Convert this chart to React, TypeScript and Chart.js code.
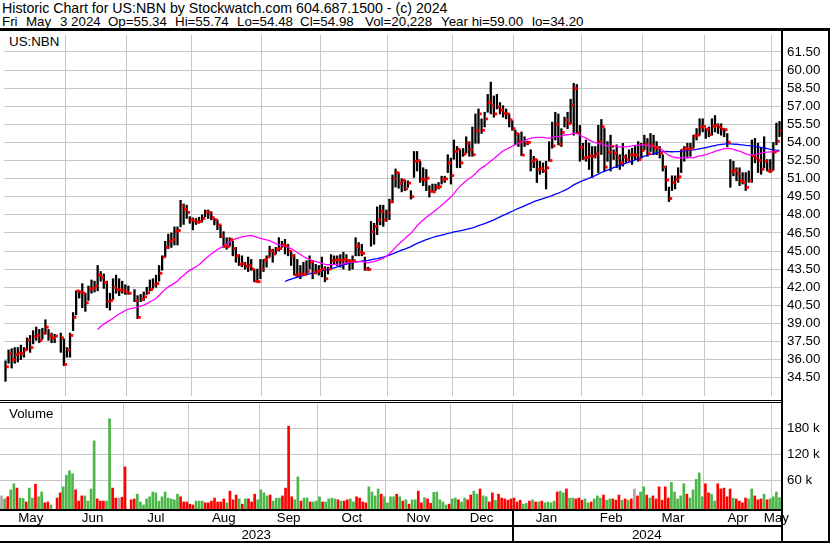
import React, { useEffect, useRef } from 'react';
import { Chart, registerables } from 'chart.js';

Chart.register(...registerables);

type Bar = [number, number, number] | null; // [high, low, close]

// ---- Daily bars per month: [high, low, close] ----
const PX_MAY23: Bar[] = [
  [35.9, 34.2, 35.4], [36.8, 35.7, 36.5], [36.9, 35.3, 36.0], [37.0, 35.7, 36.4], [37.0, 35.8, 36.55],
  [37.2, 36.0, 36.5], [37.0, 36.2, 36.8], [37.8, 36.8, 37.6], [38.0, 36.6, 37.0], [38.4, 37.3, 37.9],
  [38.7, 37.6, 38.0], [38.5, 37.4, 37.6], [38.6, 37.7, 38.2], [39.3, 38.1, 38.7], [38.5, 37.6, 38.0],
  [38.2, 37.4, 37.8], [38.1, 37.4, 37.95], null, [38.2, 36.6, 37.8], [37.7, 35.5, 35.6],
];
const PX_JUN23: Bar[] = [
  [37.0, 36.2, 36.8], [38.2, 36.2, 38.0], [39.9, 38.4, 39.5], [41.7, 39.7, 41.7], [41.7, 41.1, 41.6],
  [42.3, 40.3, 41.5], [41.5, 40.0, 40.7], [42.1, 40.9, 41.85], [42.6, 41.5, 41.9], [42.5, 41.6, 42.1],
  [43.8, 41.7, 43.0], [43.3, 42.5, 42.8], [43.1, 41.9, 42.4], [42.5, 40.3, 40.8], [41.5, 40.1, 40.9],
  [42.7, 41.0, 42.0], [43.0, 41.5, 41.8], [42.7, 41.3, 41.75], [42.5, 41.5, 41.75], [42.2, 41.4, 41.6],
];
const PX_JUL23: Bar[] = [
  [42.1, 41.4, 41.5], null, [41.8, 40.8, 40.9], [41.3, 39.4, 39.5], [41.4, 40.8, 41.0],
  [41.6, 40.9, 41.2], [42.0, 41.4, 41.55], [42.6, 41.7, 41.8], [42.7, 41.9, 42.2], [43.0, 42.0, 42.3],
  [43.8, 42.5, 43.15], [44.6, 43.4, 44.5], [45.8, 44.5, 45.3], [46.4, 45.2, 45.8], [46.5, 45.3, 45.95],
  [47.0, 45.5, 46.6], [47.0, 45.5, 46.7], [49.2, 47.0, 48.75], [48.9, 47.2, 48.45], [48.8, 47.7, 48.2],
  [47.85, 47.3, 47.6],
];
const PX_AUG23: Bar[] = [
  [47.75, 46.75, 47.5], [47.7, 47.2, 47.4], [47.8, 47.3, 47.45], [48.0, 47.4, 47.7], [48.4, 47.85, 48.25],
  [48.4, 47.7, 48.17], [48.26, 47.58, 47.77], [47.7, 47.17, 47.58], [47.58, 46.77, 47.17], [47.17, 46.1, 46.23],
  [46.6, 45.3, 45.4], [46.1, 45.15, 45.37], [46.1, 45.4, 45.96], [45.8, 44.6, 45.2], [45.3, 44.07, 44.6],
  [44.7, 43.8, 43.9], [44.6, 43.7, 43.95], [44.07, 43.5, 43.75], [44.5, 43.3, 43.8], [44.3, 43.4, 43.5],
  [43.5, 42.45, 42.5], [43.5, 42.4, 42.45], [44.3, 42.7, 43.5],
];
const PX_SEP23: Bar[] = [
  [44.3, 43.3, 44.26], [44.6, 43.66, 44.5], [45.4, 44.5, 45.0], [45.15, 44.07, 44.75], [45.3, 44.75, 45.15],
  [46.1, 45.0, 45.2], [45.8, 45.3, 45.5], [45.96, 44.75, 45.4], [45.56, 44.6, 45.0], [45.0, 43.8, 44.6],
  [44.7, 43.0, 43.0], [44.3, 42.86, 43.04], [43.8, 42.7, 43.1], [44.07, 43.0, 43.04], [44.2, 43.1, 43.3],
  [44.6, 43.5, 44.1], [44.2, 42.7, 43.2], [43.9, 43.1, 43.3], [43.8, 43.0, 43.4],
];
const PX_OCT23: Bar[] = [
  [44.5, 42.86, 43.5], [43.7, 42.45, 42.7], [43.66, 43.1, 43.5], [44.7, 43.5, 44.2], [44.6, 43.9, 44.25],
  [44.6, 43.8, 44.26], [44.7, 43.66, 44.2], [44.9, 43.5, 44.3], [44.7, 43.9, 44.2], [44.3, 43.4, 44.15],
  [44.6, 43.5, 44.2], [46.1, 44.6, 45.4], [45.7, 44.6, 44.9], [45.56, 44.6, 44.8], [44.5, 43.4, 43.5],
  [43.66, 43.4, 43.47], [47.45, 45.4, 46.6], [47.3, 45.56, 47.04], [48.66, 46.36, 47.58], [48.8, 47.17, 48.3],
  [48.8, 47.04, 47.58], [48.4, 47.45, 48.17],
];
const PX_NOV23: Bar[] = [
  [49.3, 47.6, 49.07], [51.3, 49.0, 51.0], [51.8, 50.3, 51.5], [51.5, 50.2, 50.6], [51.0, 49.9, 50.85],
  [50.9, 50.0, 50.15], [50.82, 50.28, 50.63], [50.0, 49.3, 49.5], [53.25, 51.1, 52.44], [53.25, 51.63, 52.5],
  [52.44, 50.68, 50.95], [51.9, 50.41, 50.9], [51.76, 50.0, 51.04], [50.41, 49.47, 49.95], [50.55, 49.87, 49.9],
  [50.55, 50.0, 50.28], [50.68, 50.14, 50.33], [51.2, 50.55, 50.9], [51.2, 50.68, 50.98], [52.98, 51.5, 52.3],
  [52.7, 50.55, 51.25],
];
const PX_DEC23: Bar[] = [
  [54.2, 52.6, 53.25], [53.66, 51.9, 53.44], [53.4, 51.9, 52.3], [53.5, 52.85, 53.04], [54.47, 53.12, 53.93],
  [54.06, 52.85, 53.41], [55.28, 52.85, 52.98], [56.36, 53.93, 54.98], [56.77, 53.93, 56.36], [55.95, 54.74, 55.0],
  [56.5, 55.28, 55.95], [57.98, 56.5, 57.3], [59.0, 56.36, 57.04], [57.85, 56.09, 56.36], [57.98, 56.77, 56.95],
  [57.3, 56.36, 56.68], [57.04, 56.09, 56.41], [56.77, 55.95, 56.36], [56.36, 55.28, 55.87], [55.8, 55.0, 55.14],
];
const PX_JAN24: Bar[] = [
  [55.0, 53.8, 54.74], [54.74, 53.66, 54.06], [54.87, 52.9, 52.95], [54.47, 53.66, 53.93], [54.1, 53.8, 54.0],
  [53.39, 51.63, 52.44], [52.85, 51.9, 52.58], [52.58, 50.68, 51.76], [52.44, 51.36, 51.85], [52.3, 51.5, 51.63],
  [52.44, 50.14, 51.9], [54.06, 52.44, 52.5], [55.68, 53.52, 53.71], [56.5, 54.2, 55.5], [56.36, 53.8, 53.85],
  [55.14, 53.66, 54.82], [56.09, 55.28, 55.87], [56.5, 55.14, 55.55], [57.58, 55.55, 57.09], [58.9, 54.6, 58.47],
  [58.8, 54.74, 54.82], [55.41, 52.44, 53.6],
];
const PX_FEB24: Bar[] = [
  [53.93, 52.58, 52.71], [54.2, 52.44, 52.75], [53.93, 51.76, 52.9], [53.66, 51.09, 52.85], [53.66, 52.71, 53.04],
  [55.42, 51.5, 54.07], [55.9, 53.0, 55.3], [55.15, 51.63, 51.96], [54.07, 52.44, 53.2], [54.6, 51.63, 53.66],
  [53.39, 52.58, 53.12], [53.8, 51.9, 52.71], [52.98, 51.76, 52.31], [53.93, 52.04, 52.8], [52.98, 52.31, 52.58],
  [53.39, 52.44, 52.98], [53.52, 52.17, 52.95], [53.66, 52.58, 52.95], [54.07, 52.44, 52.58], [53.93, 52.71, 53.34],
];
const PX_MAR24: Bar[] = [
  [54.6, 53.39, 53.88], [54.33, 52.85, 53.07], [54.74, 53.25, 53.8], [54.6, 52.98, 53.58], [54.07, 52.98, 53.55],
  [53.66, 52.71, 53.12], [52.98, 51.63, 51.96], [52.04, 50.01, 50.88], [50.3, 49.1, 49.35], [51.23, 50.01, 50.69],
  [51.23, 50.15, 50.96], [51.9, 50.69, 51.15], [53.39, 51.5, 53.39], [53.66, 52.44, 53.52], [53.93, 52.71, 53.45],
  [53.93, 52.85, 53.52], [54.6, 53.52, 54.55], [55.15, 54.2, 54.6], [55.96, 54.6, 55.28], [55.96, 54.87, 55.33],
];
const PX_APR24: Bar[] = [
  [55.15, 54.33, 55.09], [55.28, 54.47, 54.66], [55.96, 54.6, 55.33], [56.23, 54.87, 55.42], [55.55, 54.74, 55.28],
  [55.55, 54.6, 55.09], [55.15, 54.47, 55.05], [54.74, 53.66, 54.01], [52.58, 50.28, 51.58], [52.44, 51.23, 51.69],
  [51.9, 50.82, 51.42], [51.9, 50.42, 50.82], [51.5, 50.55, 50.69], [51.5, 50.01, 50.28], [51.63, 50.69, 50.82],
  [54.2, 50.69, 52.85], [54.33, 52.31, 52.71], [53.93, 51.5, 52.5], [53.52, 51.36, 51.77], [54.47, 51.9, 52.44],
  [52.58, 51.63, 51.63], [52.58, 51.5, 51.69],
];
const PX_MAY24: Bar[] = [[54.0, 51.7, 53.2], [55.6, 53.8, 54.1], [55.74, 54.48, 54.98]];

// ---- Daily volume per month (thousands of shares) ----
const VOL_MAY23 = [24, 17, 22, 38, 52, 42, 19, 18, 10, 42, 19, 51, 22, 33, 8, 10, 3, null, 19, 31];
const VOL_JUN23 = [45, 72, 82, 75, 38, 12, 24, 24, 12, 40, 151, 17, 12, 12, 12, 202, 42, 19, 19, 21];
const VOL_JUL23 = [91, null, 15, 17, 28, 10, 3, 17, 22, 33, 31, 12, 22, 33, 19, 17, 15, 28, 22, 10, 10];
const VOL_AUG23 = [5, 3, 12, 12, 12, 8, 8, 12, 19, 10, 10, 17, 8, 35, 15, 26, 17, 5, 17, 17, 10, 28, 15];
const VOL_SEP23 = [38, 31, 24, 26, 12, 19, 19, 24, 42, 185, 22, 15, 68, 12, 19, 19, 10, 10, 12];
const VOL_OCT23 = [22, 10, 10, 17, 19, 17, 15, 12, 12, 15, 17, 10, 22, 19, 10, 8, 45, 33, 24, 40, 28, 22];
const VOL_NOV23 = [8, 22, 22, 28, 22, 12, 15, 5, 15, 15, 35, 8, 20, 17, 7, 32, 33, 15, 10, 3, 5];
const VOL_DEC23 = [17, 19, 15, 10, 19, 15, 26, 35, 28, 40, 24, 22, 10, 31, 14, 28, 19, 17, 14, 17];
const VOL_JAN24 = [19, 10, 14, 5, 7, 12, 15, 10, 10, 12, 8, 10, 8, 12, 33, 35, 31, 40, 19, 19, 17, 19];
const VOL_FEB24 = [14, 17, 8, 10, 17, 24, 19, 26, 14, 17, 17, 14, 26, 14, 17, 14, 17, 40, 24, 33];
const VOL_MAR24 = [45, 26, 19, 24, 17, 45, 14, 45, 19, 55, 33, 17, 24, 52, 28, 19, 38, 62, 77, 22];
const VOL_APR24 = [52, 31, 28, 12, 52, 40, 42, 22, 40, 19, 17, 12, 8, 19, 17, 40, 24, 15, 17, 28, 15, 17];
const VOL_MAY24 = [22, 33, 20];

const MONTH_LABELS = ['May', 'Jun', 'Jul', 'Aug', 'Sep', 'Oct', 'Nov', 'Dec', 'Jan', 'Feb', 'Mar', 'Apr', 'May'];
const YEAR_LABELS = ['2023', '2024'];
const PRICE_TICKS = [34.5, 36, 37.5, 39, 40.5, 42, 43.5, 45, 46.5, 48, 49.5, 51, 52.5, 54, 55.5, 57, 58.5, 60, 61.5];
const VOLUME_TICKS = [60, 120, 180];
const PRICE_RANGE = [32.983, 62.903];
const VOLUME_RANGE = [-6.23, 236.1];
const MA_FAST = 30;
const MA_SLOW = 90;

const TITLE = 'Historic Chart for US:NBN by Stockwatch.com 604.687.1500 - (c) 2024';
const QUOTE_FIELDS = ['Fri', 'May', '3 2024', 'Op=55.34', 'Hi=55.74', 'Lo=54.48', 'Cl=54.98', 'Vol=20,228', 'Year hi=59.00', 'lo=34.20'];

const MONTH_BARS = [PX_MAY23, PX_JUN23, PX_JUL23, PX_AUG23, PX_SEP23, PX_OCT23, PX_NOV23, PX_DEC23, PX_JAN24, PX_FEB24, PX_MAR24, PX_APR24, PX_MAY24];
const MONTH_VOLS = [VOL_MAY23, VOL_JUN23, VOL_JUL23, VOL_AUG23, VOL_SEP23, VOL_OCT23, VOL_NOV23, VOL_DEC23, VOL_JAN24, VOL_FEB24, VOL_MAR24, VOL_APR24, VOL_MAY24];

const BARS: Bar[] = ([] as Bar[]).concat(...MONTH_BARS);
const VOLS: (number | null)[] = ([] as (number | null)[]).concat(...MONTH_VOLS);
const N = BARS.length;

const MONTH_STARTS: number[] = [];
{
  let s = 0;
  MONTH_BARS.forEach((m) => { MONTH_STARTS.push(s); s += m.length; });
}
const MONTH_MIDS = MONTH_BARS.map((m, k) => MONTH_STARTS[k] + (m.length - 1) / 2);
const GRID_VALUES = MONTH_STARTS.slice(1).map((s) => s - 0.5);
const YEAR_MIDS: number[] = (() => {
  const starts = [0];
  MONTH_LABELS.forEach((l, k) => { if (l === 'Jan' && k > 0) starts.push(MONTH_STARTS[k]); });
  return starts.map((s, j) => ((s + (j + 1 < starts.length ? starts[j + 1] : N)) - 1) / 2);
})();

const X_MIN = -0.49;
const X_MAX = N - 1 + 0.49;

function sma(n: number) {
  const pts: { x: number; y: number }[] = [];
  const win: number[] = [];
  let sum = 0;
  BARS.forEach((b, i) => {
    if (!b) return;
    win.push(b[2]);
    sum += b[2];
    if (win.length > n) sum -= win.shift() as number;
    if (win.length === n) pts.push({ x: i, y: sum / n });
  });
  return pts;
}

const FONT = "'Liberation Sans', Arial, sans-serif";
const GRID = '#c6c6c6';
// horizontal placement of the quote fields on the second header line
const QUOTE_X = [2, 26, 60, 108, 175, 237, 300, 365, 441, 532];

export default function App() {
  const priceRef = useRef<HTMLCanvasElement>(null);
  const volRef = useRef<HTMLCanvasElement>(null);

  useEffect(() => {
    Chart.defaults.font.family = FONT;
    Chart.defaults.color = '#000';

    const barData: any[] = [];
    const closeData: any[] = [];
    BARS.forEach((b, i) => {
      if (!b) return;
      barData.push({ x: i, y: [b[1], b[0]] });
      closeData.push({ x: i + 0.6, y: b[2] });
    });

    const xGrid = {
      type: 'linear' as const,
      min: X_MIN,
      max: X_MAX,
      offset: false,
      ticks: { display: false },
      grid: { color: GRID, drawTicks: false, lineWidth: 1, offset: false },
      border: { display: false },
      afterBuildTicks: (s: any) => { s.ticks = GRID_VALUES.map((v) => ({ value: v })); },
      afterFit: (s: any) => { s.height = 0; s.paddingLeft = 0; s.paddingRight = 0; },
    };

    const price = new Chart(priceRef.current as HTMLCanvasElement, {
      type: 'bar',
      data: {
        datasets: [
          { type: 'bar', data: barData, backgroundColor: '#000', barThickness: 1.6, borderWidth: 0, order: 4 } as any,
          { type: 'line', data: sma(MA_SLOW), borderColor: '#0000ff', borderWidth: 1.3, pointRadius: 0, tension: 0, order: 3 } as any,
          { type: 'line', data: sma(MA_FAST), borderColor: '#ff00ff', borderWidth: 1.3, pointRadius: 0, tension: 0, order: 2 } as any,
          { type: 'scatter', data: closeData, pointStyle: 'rect', pointRadius: 2, backgroundColor: '#ff0000', borderWidth: 0, order: 1 } as any,
        ],
      },
      options: {
        animation: false,
        responsive: false,
        maintainAspectRatio: false,
        layout: { padding: 0 },
        plugins: { legend: { display: false }, tooltip: { enabled: false } },
        scales: {
          x: xGrid as any,
          y: {
            position: 'right',
            min: PRICE_RANGE[0],
            max: PRICE_RANGE[1],
            ticks: { padding: 6, color: '#000', font: { size: 13.33, family: FONT }, callback: (v: any) => Number(v).toFixed(2) },
            grid: { color: GRID, drawTicks: false, lineWidth: 1 },
            border: { display: false },
            afterBuildTicks: (s: any) => { s.ticks = PRICE_TICKS.map((v) => ({ value: v })); },
            afterFit: (s: any) => { s.width = 47; s.paddingTop = 0; s.paddingBottom = 0; },
          } as any,
        },
      },
    });

    const volColors: string[] = [];
    const volData: any[] = [];
    let prev: number | null = null;
    BARS.forEach((b, i) => {
      const v = VOLS[i];
      if (!b || v == null) return;
      const c = b[2];
      volColors.push(prev == null || c === prev ? '#a8a8a8' : c > prev ? '#4cb648' : '#ff0000');
      volData.push({ x: i, y: v });
      prev = c;
    });

    const volume = new Chart(volRef.current as HTMLCanvasElement, {
      type: 'bar',
      data: {
        datasets: [
          { type: 'bar', data: volData, backgroundColor: volColors, barThickness: 2, borderWidth: 0, base: VOLUME_RANGE[0] } as any,
        ],
      },
      options: {
        animation: false,
        responsive: false,
        maintainAspectRatio: false,
        layout: { padding: 0 },
        plugins: { legend: { display: false }, tooltip: { enabled: false } },
        scales: {
          x: { ...xGrid, weight: 0 } as any,
          x2: {
            type: 'linear',
            position: 'bottom',
            weight: 1,
            min: X_MIN,
            max: X_MAX,
            offset: false,
            grid: { display: false, drawTicks: false, offset: false },
            border: { display: false },
            ticks: { padding: 1, autoSkip: false, maxRotation: 0, minRotation: 0, color: '#000', font: { size: 13.33, family: FONT }, callback: (_v: any, i: number) => MONTH_LABELS[i] },
            afterBuildTicks: (s: any) => { s.ticks = MONTH_MIDS.map((v) => ({ value: v })); },
            afterFit: (s: any) => { s.height = 16; s.paddingLeft = 0; s.paddingRight = 0; },
          } as any,
          x3: {
            type: 'linear',
            position: 'bottom',
            weight: 2,
            min: X_MIN,
            max: X_MAX,
            offset: false,
            grid: { display: false, drawTicks: false, offset: false },
            border: { display: false },
            ticks: { padding: 2, autoSkip: false, maxRotation: 0, minRotation: 0, color: '#000', font: { size: 13.33, family: FONT }, callback: (_v: any, i: number) => YEAR_LABELS[i] },
            afterBuildTicks: (s: any) => { s.ticks = YEAR_MIDS.map((v) => ({ value: v })); },
            afterFit: (s: any) => { s.height = 18; s.paddingLeft = 0; s.paddingRight = 0; },
          } as any,
          y: {
            position: 'right',
            min: VOLUME_RANGE[0],
            max: VOLUME_RANGE[1],
            ticks: { padding: 6, color: '#000', font: { size: 13.33, family: FONT }, callback: (v: any) => `${v} k` },
            grid: { color: GRID, drawTicks: false, lineWidth: 1 },
            border: { display: false },
            afterBuildTicks: (s: any) => { s.ticks = VOLUME_TICKS.map((v) => ({ value: v })); },
            afterFit: (s: any) => { s.width = 47; s.paddingTop = 0; s.paddingBottom = 0; },
          } as any,
        },
      },
    });

    return () => { price.destroy(); volume.destroy(); };
  }, []);

  const line = (l: number, t: number, w: number, h: number): React.CSSProperties => ({
    position: 'absolute', left: l, top: t, width: w, height: h, background: '#000',
  });
  const titleText: React.CSSProperties = { fontFamily: FONT, fontSize: '14.2px', lineHeight: '13.4px', color: '#000', whiteSpace: 'pre' };
  const text: React.CSSProperties = { fontFamily: FONT, fontSize: '13.33px', lineHeight: '13.4px', color: '#000', whiteSpace: 'pre' };

  return (
    <div style={{ position: 'absolute', left: 0, top: 0, width: 830, height: 543, background: '#fff', overflow: 'hidden' }}>
      <div style={{ ...titleText, position: 'absolute', left: 2, top: 1.7 }}>{TITLE}</div>
      {QUOTE_FIELDS.map((f, k) => (
        <span key={k} style={{ ...text, position: 'absolute', left: QUOTE_X[k], top: 15.4 }}>{f}</span>
      ))}
      <canvas ref={priceRef} width={828} height={369} style={{ position: 'absolute', left: 0, top: 31, width: 828, height: 369 }} />
      <canvas ref={volRef} width={828} height={139} style={{ position: 'absolute', left: 0, top: 404, width: 828, height: 139 }} />
      <div style={{ position: 'absolute', left: 0, top: 31, width: 61, height: 19, background: '#fff' }} />
      <div style={{ ...text, position: 'absolute', left: 9, top: 35 }}>US:NBN</div>
      <div style={{ ...text, position: 'absolute', left: 9, top: 407 }}>Volume</div>
      <div style={line(0, 28, 830, 3)} />
      <div style={line(781, 28, 2, 515)} />
      <div style={line(828, 28, 2, 515)} />
      <div style={line(0, 400, 781, 1)} />
      <div style={line(0, 402, 781, 1)} />
      <div style={line(0, 509, 783, 2)} />
      <div style={line(0, 525, 783, 2)} />
      <div style={line(512, 509, 2, 34)} />
      <div style={line(0, 541, 830, 2)} />
    </div>
  );
}
